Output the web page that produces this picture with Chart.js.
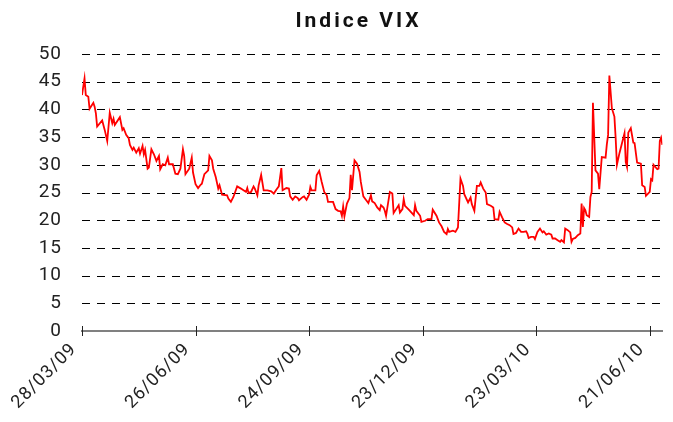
<!DOCTYPE html>
<html>
<head>
<meta charset="utf-8">
<script src="https://cdn.jsdelivr.net/npm/chart.js@4/dist/chart.umd.min.js"></script>
<style>
  html, body { margin: 0; padding: 0; background: #fff; }
  #wrap { width: 673px; height: 422px; }
</style>
</head>
<body>
<div id="wrap"><canvas id="vixChart" width="673" height="422"></canvas></div>
<script>
// days counted from 28/03/09
const days = [
  0, 2, 3, 5, 6, 9, 10, 11, 12, 16, 18, 20, 22, 24, 25, 26, 30, 32, 33, 35,
  37, 38, 40, 41, 43, 45, 46, 48, 49, 50, 52, 53, 55, 57, 59, 61, 62, 64, 66, 68,
  69, 72, 74, 76, 78, 80, 81, 82, 85, 87, 88, 90, 92, 94, 95, 97, 100, 101, 103, 104,
  106, 108, 109, 111, 115,
  116, 118, 120, 123, 126, 128, 130, 131, 132, 134, 136, 137, 139, 140, 142, 144, 147, 150, 152, 154,
  156, 158, 159, 162, 164, 165, 167, 169, 171, 172, 175, 176, 178, 180, 181, 182, 185, 186, 188, 190,
  192, 194, 195, 199, 201, 203, 205, 206, 207, 208, 210, 212, 213, 214, 216, 218, 220, 221, 223, 225,
  227, 229, 230,
  232, 234, 236, 237, 239, 240, 241, 244, 246, 247, 249, 251, 252, 254, 255, 256, 259, 261, 263, 264,
  265, 268, 269, 272, 274, 277, 278, 281, 283, 285, 287, 289, 290, 291, 294, 296, 298, 300, 302, 303,
  306, 308, 309, 311, 313, 315, 316, 318, 320, 321, 324, 326, 327, 330, 331, 333, 335, 337, 339, 341,
  342, 344, 346, 348,
  350, 352, 353, 354, 356, 358, 359, 361, 363, 365, 366, 368, 370, 372, 373, 375, 377, 379, 380, 382,
  383, 385, 387, 388, 389, 391, 393, 395, 396, 397, 398, 399, 400, 402, 403, 404, 405, 407, 409, 410,
  412, 415, 416, 417, 418, 420, 422, 423, 424, 426, 428, 430, 431, 432, 433, 435, 437, 438, 440, 443,
  444, 446, 447, 450, 451, 452, 453, 456, 457, 458, 459, 460
];

const vix = [
  42.6, 45.6, 42.6, 42.3, 40.1, 41.2, 40.5, 39.3, 36.9, 38.0, 36.3, 34.3, 39.4, 37.5, 38.3, 37.2, 38.6, 36.3, 36.6, 35.4,
  34.8, 33.6, 32.7, 33.1, 32.2, 33.0, 32.0, 33.4, 31.9, 32.7, 29.3, 29.5, 32.8, 31.9, 30.7, 31.6, 29.2, 30.1, 29.9, 31.3,
  30.1, 30.1, 28.4, 28.3, 29.3, 32.8, 31.6, 28.3, 29.3, 31.3, 28.6, 26.5, 25.8, 26.4, 26.6, 28.3, 29.0, 31.6, 30.8, 29.3,
  27.8, 25.7, 26.3, 24.6, 24.5,
  23.9, 23.3, 24.2, 26.1, 25.7, 25.4, 25.1, 25.8, 24.9, 25.1, 26.1, 25.7, 24.5, 26.3, 28.2, 25.4, 25.4, 25.2, 24.8, 25.5,
  26.1, 29.4, 25.4, 25.8, 25.7, 24.3, 23.7, 24.3, 24.0, 23.6, 24.2, 24.3, 23.7, 24.6, 26.0, 25.4, 25.4, 28.1, 28.9, 26.9,
  25.1, 24.5, 23.3, 23.3, 22.0, 21.7, 21.6, 20.8, 22.5, 20.7, 23.0, 24.0, 28.2, 25.4, 30.8, 30.2, 28.7, 26.9, 24.3, 23.7,
  23.1, 24.5, 23.4,
  23.1, 22.3, 21.8, 22.7, 22.3, 21.7, 20.8, 25.1, 24.8, 21.3, 22.0, 22.7, 21.4, 22.0, 23.8, 22.6, 21.9, 21.4, 20.9, 22.7,
  21.7, 20.8, 19.7, 19.9, 20.2, 20.2, 21.9, 20.8, 19.6, 18.9, 17.9, 17.5, 18.4, 17.9, 18.1, 17.9, 18.7, 27.5, 26.2, 24.7,
  23.2, 24.1, 22.9, 21.7, 26.2, 26.2, 26.8, 25.7, 25.0, 22.9, 22.6, 22.3, 20.2, 20.1, 21.5, 20.5, 19.6, 19.3, 19.1, 18.7,
  17.5, 17.7, 18.5, 17.9,
  17.9, 18.0, 17.6, 16.8, 17.0, 17.0, 16.6, 17.9, 18.5, 17.8, 18.0, 17.4, 17.6, 17.4, 16.7, 16.7, 16.4, 16.1, 16.4, 16.0,
  18.5, 18.2, 17.8, 16.1, 16.6, 16.8, 17.3, 17.6, 23.0, 18.8, 22.2, 21.8, 20.9, 20.6, 24.2, 25.1, 41.2, 29.0, 28.4, 25.6,
  31.4, 31.3, 33.7, 35.4, 46.1, 40.2, 38.7, 34.8, 30.0, 32.1, 33.9, 35.7, 30.5, 29.6, 35.8, 36.6, 34.0, 33.9, 30.4, 30.2,
  26.3, 26.0, 24.4, 25.1, 27.4, 27.2, 30.0, 29.2, 29.3, 34.3, 34.9, 33.6
];

const tickDays = [0, 90, 180, 270, 360, 450];
const tickLabels = ['28/03/09', '26/06/09', '24/09/09', '23/12/09', '23/03/10', '21/06/10'];
const titleText = 'Indice VIX';

const FONT = '"Liberation Sans Narrow", Roboto, "Liberation Sans", sans-serif';

const spacing = {
  id: 'spacing',
  beforeLayout(chart) { chart.ctx.letterSpacing = '1px'; },
  beforeDraw(chart) { chart.ctx.letterSpacing = '1px'; }
};

// dashed horizontal grid, crossing tick marks on the zero line, and the title
const decor = {
  id: 'decor',
  beforeDatasetsDraw(chart) {
    const ctx = chart.ctx;
    const y = chart.scales.y;
    const area = chart.chartArea;
    ctx.save();
    ctx.strokeStyle = '#000';
    ctx.lineWidth = 1;
    ctx.setLineDash([8, 7]);
    y.ticks.forEach(t => {
      if (t.value === 0) return;
      const py = Math.round(y.getPixelForValue(t.value)) + 0.5;
      ctx.beginPath();
      ctx.moveTo(area.left, py);
      ctx.lineTo(area.right, py);
      ctx.stroke();
    });
    ctx.restore();
  },
  afterDraw(chart) {
    const ctx = chart.ctx;
    const x = chart.scales.x;
    const y0 = chart.scales.y.getPixelForValue(0);
    ctx.save();
    ctx.strokeStyle = '#222';
    ctx.lineWidth = 1;
    tickDays.forEach(d => {
      const px = Math.round(x.getPixelForValue(d)) + 0.5;
      ctx.beginPath();
      ctx.moveTo(px, y0 - 5);
      ctx.lineTo(px, y0 + 5);
      ctx.stroke();
    });
    ctx.letterSpacing = '3px';
    ctx.font = 'bold 21px ' + FONT;
    ctx.fillStyle = '#111';
    ctx.textAlign = 'center';
    ctx.textBaseline = 'middle';
    ctx.fillText(titleText, (chart.chartArea.left + chart.width) / 2 - 19, 22);
    ctx.restore();
  }
};

new Chart(document.getElementById('vixChart'), {
  type: 'line',
  data: {
    datasets: [{
      data: days.map((d, i) => ({ x: d, y: vix[i] })),
      borderColor: 'rgb(255, 0, 0)',
      borderWidth: 1.8,
      pointRadius: 0,
      tension: 0,
      fill: false
    }]
  },
  options: {
    responsive: false,
    animation: false,
    layout: { padding: { top: 54, left: 0, right: 0, bottom: 0 } },
    plugins: {
      legend: { display: false },
      tooltip: { enabled: false },
      title: { display: false }
    },
    scales: {
      x: {
        type: 'linear',
        min: 0,
        max: 460,
        afterBuildTicks(scale) {
          scale.ticks = tickDays.map(v => ({ value: v }));
        },
        afterFit(scale) { scale.height = 91; },
        ticks: {
          autoSkip: false,
          maxRotation: 45,
          minRotation: 45,
          padding: 8,
          labelOffset: -8,
          color: '#222',
          font: { family: FONT, size: 18 },
          callback: (v) => tickLabels[tickDays.indexOf(v)]
        },
        grid: { drawOnChartArea: false, drawTicks: false },
        border: { display: true, color: '#808080', width: 2 }
      },
      y: {
        min: 0,
        max: 50,
        afterFit(scale) { scale.width = 82; },
        ticks: {
          stepSize: 5,
          padding: 20,
          color: '#222',
          font: { family: FONT, size: 19 }
        },
        grid: { display: false, drawTicks: false },
        border: { display: false }
      }
    }
  },
  plugins: [spacing, decor]
});
</script>
</body>
</html>
